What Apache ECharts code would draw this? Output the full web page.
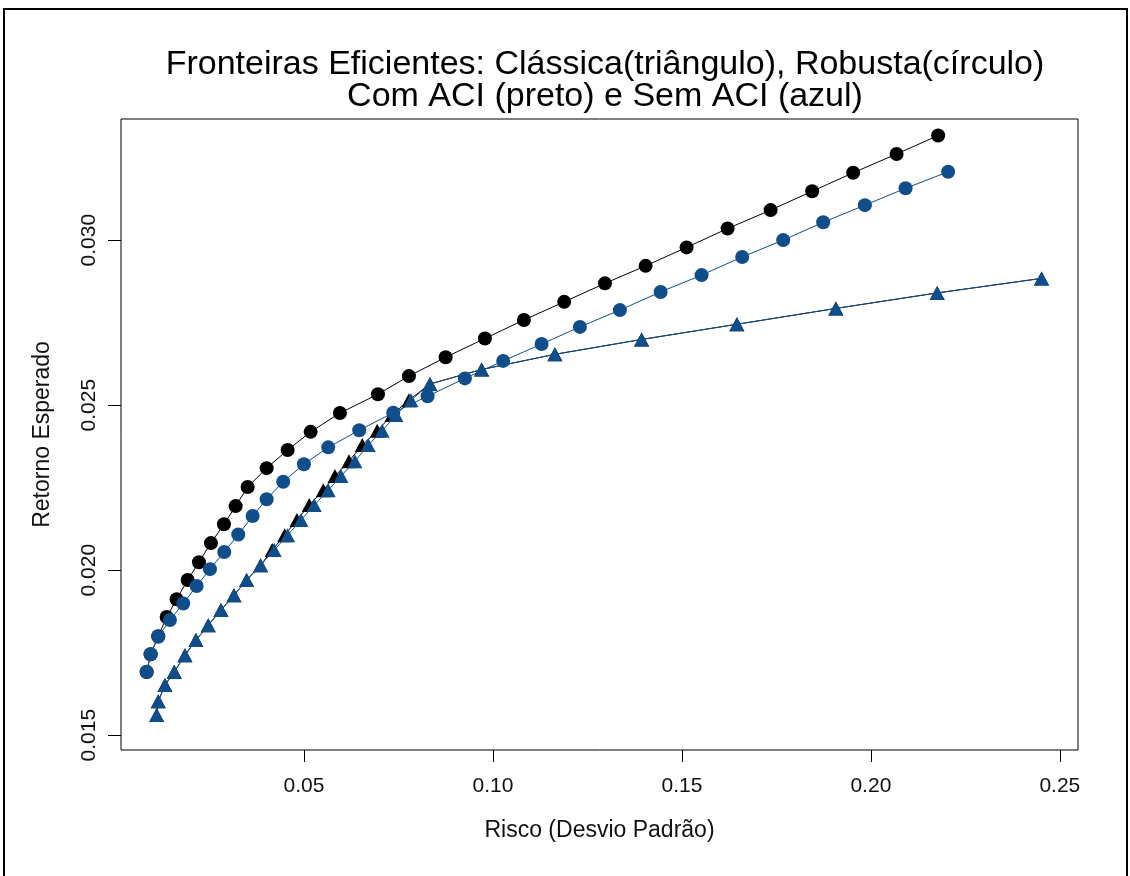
<!DOCTYPE html>
<html>
<head>
<meta charset="utf-8">
<script src="https://cdn.jsdelivr.net/npm/echarts@6/dist/echarts.min.js"></script>
<style>
html,body{margin:0;padding:0;background:#fff;}
#chart{width:1130px;height:876px;}
</style>
</head>
<body>
<div id="chart"></div>
<script>
// Axis ticks
const xTicks = [0.05, 0.10, 0.15, 0.20, 0.25];
const yTicks = [0.015, 0.020, 0.025, 0.030];

// Robusta com ACI (preto, círculo)
const robComRisk = [0.00839,0.00944,0.01146,0.01368,0.01632,0.01923,0.02222,0.02540,0.02884,0.03193,0.03511,0.04013,0.04569,0.05177,0.05952,0.06958,0.07778,0.08749,0.09788,0.10820,0.11886,0.12963,0.14040,0.15124,0.16209,0.17347,0.18447,0.19532,0.20680,0.21780];
const robComRet  = [0.01691,0.01745,0.01800,0.01858,0.01912,0.01970,0.02024,0.02082,0.02139,0.02194,0.02252,0.02309,0.02364,0.02419,0.02476,0.02533,0.02588,0.02645,0.02702,0.02758,0.02813,0.02869,0.02922,0.02978,0.03035,0.03091,0.03148,0.03204,0.03261,0.03317];

// Robusta sem ACI (azul, círculo)
const robSemRisk = [0.00839,0.00944,0.01146,0.01455,0.01807,0.02161,0.02513,0.02892,0.03262,0.03643,0.04013,0.04452,0.05000,0.05643,0.06463,0.07362,0.08272,0.09259,0.10272,0.11288,0.12302,0.13360,0.14437,0.15521,0.16595,0.17680,0.18738,0.19841,0.20918,0.22045];
const robSemRet  = [0.01692,0.01745,0.01798,0.01849,0.01899,0.01952,0.02003,0.02055,0.02108,0.02164,0.02215,0.02268,0.02321,0.02372,0.02424,0.02477,0.02527,0.02581,0.02634,0.02685,0.02737,0.02788,0.02843,0.02894,0.02949,0.03000,0.03054,0.03106,0.03157,0.03207];

// Clássica sem ACI (azul, triângulo)
const clsSemRisk = [0.01103,0.01146,0.01323,0.01569,0.01852,0.02143,0.02468,0.02804,0.03148,0.03484,0.03854,0.04214,0.04569,0.04921,0.05272,0.05643,0.05979,0.06349,0.06701,0.07071,0.07434,0.07831,0.08333,0.09701,0.11640,0.13934,0.16455,0.19074,0.21754,0.24516];
const clsSemRet  = [0.01561,0.01603,0.01652,0.01692,0.01742,0.01788,0.01833,0.01879,0.01924,0.01970,0.02015,0.02061,0.02106,0.02152,0.02197,0.02242,0.02285,0.02330,0.02379,0.02422,0.02470,0.02515,0.02564,0.02608,0.02654,0.02699,0.02745,0.02793,0.02840,0.02884];

// Clássica com ACI (preto, triângulo)
const clsComRisk = [0.01103,0.01146,0.01323,0.01569,0.01852,0.02143,0.02468,0.02804,0.03148,0.03484,0.03854,0.04161,0.04490,0.04815,0.05140,0.05511,0.05820,0.06190,0.06542,0.06939,0.07328,0.07778,0.08333,0.09701,0.11640,0.13934,0.16455,0.19074,0.21754,0.24516];
const clsComRet  = [0.01561,0.01603,0.01652,0.01692,0.01742,0.01788,0.01833,0.01879,0.01924,0.01970,0.02015,0.02061,0.02106,0.02152,0.02197,0.02242,0.02285,0.02330,0.02379,0.02422,0.02470,0.02515,0.02564,0.02608,0.02654,0.02699,0.02745,0.02793,0.02840,0.02884];

const zip = (a, b) => a.map((v, i) => [v, b[i]]);
const BLACK = '#000000';
const BLUE = '#104E8B';
const FONT = 'Liberation Sans, Arial, sans-serif';

function mk(name, risk, ret, color, symbol, size) {
  return {
    name: name, type: 'line', data: zip(risk, ret),
    symbol: symbol, symbolSize: size, showAllSymbol: true,
    lineStyle: {color: color, width: 1},
    itemStyle: {color: color},
    emphasis: {disabled: true}, animation: false, z: 2
  };
}

const chart = echarts.init(document.getElementById('chart'), null, {renderer: 'canvas'});
chart.setOption({
  backgroundColor: '#ffffff',
  animation: false,
  title: {
    text: 'Fronteiras Eficientes: Clássica(triângulo), Robusta(círculo)\nCom ACI (preto) e Sem ACI (azul)',
    left: 600, top: 44, textAlign: 'center',
    textStyle: {fontFamily: FONT, fontSize: 34, fontWeight: 'normal', color: '#000', lineHeight: 32}
  },
  graphic: [{
    type: 'rect', shape: {x: 4, y: 9, width: 1123, height: 900},
    style: {fill: null, stroke: '#000', lineWidth: 2}, silent: true
  }],
  grid: {left: 121, right: 52, top: 119, bottom: 126, show: true, borderColor: '#000', borderWidth: 1, backgroundColor: 'transparent'},
  xAxis: {
    type: 'value', min: 0.0016, max: 0.2548,
    name: 'Risco (Desvio Padrão)', nameLocation: 'middle', nameGap: 69,
    nameTextStyle: {fontFamily: FONT, fontSize: 23, color: '#111'},
    axisLine: {show: false},
    axisTick: {show: true, inside: false, length: 12, lineStyle: {color: '#000'}, customValues: xTicks},
    axisLabel: {show: true, margin: 26, fontFamily: FONT, fontSize: 21, color: '#111', customValues: xTicks,
      formatter: v => v.toFixed(2)},
    splitLine: {show: false}
  },
  yAxis: {
    type: 'value', min: 0.01455, max: 0.03367,
    name: 'Retorno Esperado', nameLocation: 'middle', nameGap: 67,
    nameTextStyle: {fontFamily: FONT, fontSize: 23, color: '#111'},
    axisLine: {show: false},
    axisTick: {show: true, inside: false, length: 13, lineStyle: {color: '#000'}, customValues: yTicks},
    axisLabel: {show: true, rotate: 90, margin: 21, fontFamily: FONT, fontSize: 21, color: '#111', customValues: yTicks,
      formatter: v => v.toFixed(3)},
    splitLine: {show: false}
  },
  series: [
    mk('Clássica com ACI', clsComRisk, clsComRet, BLACK, 'triangle', [15, 14]),
    mk('Robusta com ACI', robComRisk, robComRet, BLACK, 'circle', 14),
    mk('Clássica sem ACI', clsSemRisk, clsSemRet, BLUE, 'triangle', [15, 14]),
    mk('Robusta sem ACI', robSemRisk, robSemRet, BLUE, 'circle', 14)
  ]
});
</script>
</body>
</html>
